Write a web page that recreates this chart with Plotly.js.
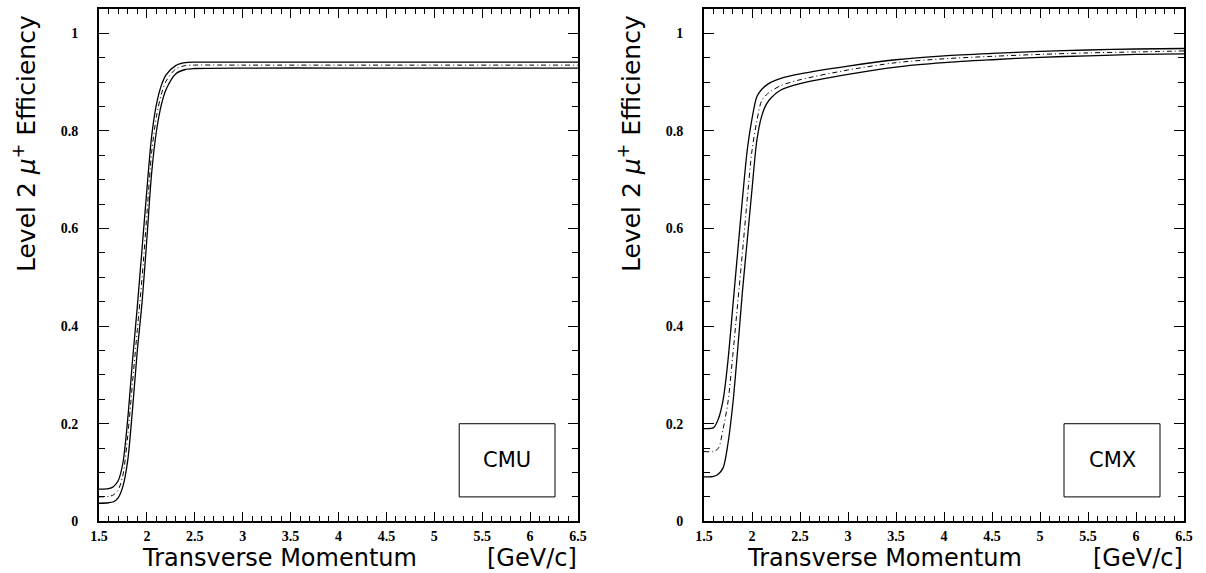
<!DOCTYPE html>
<html>
<head>
<meta charset="utf-8">
<script src="https://cdn.plot.ly/plotly-3.0.1.min.js"></script>
<style>html,body{margin:0;padding:0;background:#fff;}#chart{width:1206px;height:573px;}</style>
</head>
<body>
<div id="chart"></div>
<script>
// Transverse momentum grid (GeV/c) for CMU curves
var cmuPt = [1.5, 1.6, 1.65, 1.7, 1.75, 1.8, 1.85, 1.9, 1.95, 2.0, 2.05, 2.1, 2.15, 2.2, 2.3, 2.4, 2.5, 3.0, 4.0, 5.0, 6.0, 6.5];
var cmuCentral = [0.050, 0.051, 0.054, 0.064, 0.095, 0.175, 0.285, 0.393, 0.500, 0.630, 0.757, 0.830, 0.875, 0.902, 0.927, 0.934, 0.935, 0.935, 0.935, 0.935, 0.935, 0.935];
var cmuUpper   = [0.066, 0.067, 0.071, 0.083, 0.120, 0.210, 0.330, 0.440, 0.560, 0.680, 0.790, 0.855, 0.893, 0.915, 0.934, 0.940, 0.941, 0.941, 0.941, 0.941, 0.941, 0.941];
var cmuLower   = [0.037, 0.038, 0.040, 0.048, 0.072, 0.125, 0.230, 0.350, 0.450, 0.580, 0.715, 0.800, 0.853, 0.885, 0.917, 0.926, 0.928, 0.929, 0.929, 0.929, 0.929, 0.929];

// Transverse momentum grid (GeV/c) for CMX curves
var cmxPt = [1.5, 1.6, 1.65, 1.7, 1.75, 1.8, 1.85, 1.9, 1.95, 2.0, 2.05, 2.1, 2.15, 2.2, 2.3, 2.5, 3.0, 3.5, 4.0, 4.5, 5.0, 5.5, 6.0, 6.5];
var cmxCentral = [0.143, 0.143, 0.150, 0.190, 0.245, 0.340, 0.445, 0.550, 0.660, 0.760, 0.820, 0.862, 0.874, 0.882, 0.893, 0.905, 0.925, 0.940, 0.948, 0.953, 0.957, 0.960, 0.962, 0.964];
var cmxUpper   = [0.190, 0.192, 0.210, 0.250, 0.330, 0.440, 0.550, 0.660, 0.760, 0.825, 0.870, 0.885, 0.894, 0.900, 0.908, 0.917, 0.933, 0.946, 0.954, 0.959, 0.963, 0.966, 0.968, 0.969];
var cmxLower   = [0.091, 0.092, 0.097, 0.110, 0.160, 0.240, 0.350, 0.470, 0.575, 0.680, 0.780, 0.830, 0.855, 0.868, 0.884, 0.897, 0.916, 0.931, 0.940, 0.946, 0.951, 0.954, 0.957, 0.958];

var panelLabels = ["CMU", "CMX"];
var yTitle = "Level 2 <i>μ</i><sup>+</sup> Efficiency";
var xTitleMain = "Transverse Momentum";
var xTitleUnit = "[GeV/c]";

function solid(x, y, xa, ya) {
  return {x: x, y: y, xaxis: xa, yaxis: ya, type: 'scatter', mode: 'lines',
    line: {color: 'black', width: 1.3, shape: 'spline', smoothing: 0.8}, hoverinfo: 'skip', showlegend: false};
}
function dashdot(x, y, xa, ya) {
  return {x: x, y: y, xaxis: xa, yaxis: ya, type: 'scatter', mode: 'lines',
    line: {color: 'black', width: 1, dash: '5px,3px,1px,3px', shape: 'spline', smoothing: 0.8}, hoverinfo: 'skip', showlegend: false};
}

var data = [
  solid(cmuPt, cmuUpper, 'x', 'y'),
  dashdot(cmuPt, cmuCentral, 'x', 'y'),
  solid(cmuPt, cmuLower, 'x', 'y'),
  solid(cmxPt, cmxUpper, 'x2', 'y2'),
  dashdot(cmxPt, cmxCentral, 'x2', 'y2'),
  solid(cmxPt, cmxLower, 'x2', 'y2')
];

var tickFont = {family: 'Liberation Serif, Times New Roman, serif', size: 14, color: 'black', weight: 'bold'};
function xax(domain, anchor) {
  return {domain: domain, anchor: anchor, range: [1.5, 6.5], tick0: 1.5, dtick: 0.5,
    ticks: 'inside', ticklen: 9, tickwidth: 1, tickcolor: 'black',
    minor: {dtick: 0.1, tick0: 1.5, ticks: 'inside', ticklen: 5, tickwidth: 1, tickcolor: 'black', showgrid: false},
    showline: true, linewidth: 2, linecolor: 'black', mirror: 'allticks',
    showgrid: false, zeroline: false, tickfont: tickFont, ticklabelstandoff: 1, fixedrange: true};
}
function yax(domain, anchor) {
  return {domain: domain, anchor: anchor, range: [0, 1.05], tick0: 0, dtick: 0.2,
    ticks: 'inside', ticklen: 10, tickwidth: 1, tickcolor: 'black',
    minor: {dtick: 0.05, tick0: 0, ticks: 'inside', ticklen: 6, tickwidth: 1, tickcolor: 'black', showgrid: false},
    showline: true, linewidth: 2, linecolor: 'black', mirror: 'allticks',
    showgrid: false, zeroline: false, tickfont: tickFont, ticklabelstandoff: 16, fixedrange: true};
}

var yDom = [1 - 521.3 / 573, 1 - 9 / 573];
var titleFont = {family: 'DejaVu Sans, sans-serif', size: 25, color: 'black'};
var xTitleFont = {family: 'DejaVu Sans, sans-serif', size: 24, color: 'black'};
var layout = {
  width: 1206, height: 573,
  margin: {l: 0, r: 0, t: 0, b: 0},
  paper_bgcolor: 'white', plot_bgcolor: 'white',
  showlegend: false,
  xaxis: xax([99 / 1206, 578 / 1206], 'y'),
  yaxis: yax(yDom, 'x'),
  xaxis2: xax([704 / 1206, 1184 / 1206], 'y2'),
  yaxis2: yax(yDom, 'x2'),
  shapes: [
    {type: 'rect', xref: 'x', yref: 'y', x0: 5.26, x1: 6.26, y0: 0.05, y1: 0.2, line: {color: 'black', width: 1}},
    {type: 'rect', xref: 'x2', yref: 'y2', x0: 5.25, x1: 6.25, y0: 0.05, y1: 0.2, line: {color: 'black', width: 1}}
  ],
  annotations: [
    {xref: 'x', yref: 'y', x: 5.76, y: 0.125, text: panelLabels[0], showarrow: false, font: {family: 'DejaVu Sans, sans-serif', size: 21, color: 'black'}},
    {xref: 'x2', yref: 'y2', x: 5.75, y: 0.125, text: panelLabels[1], showarrow: false, font: {family: 'DejaVu Sans, sans-serif', size: 21, color: 'black'}},
    {xref: 'paper', yref: 'paper', x: 24 / 1206, y: 1 - 144 / 573, text: yTitle, textangle: -90, showarrow: false, xanchor: 'center', yanchor: 'middle', font: titleFont},
    {xref: 'paper', yref: 'paper', x: 629 / 1206, y: 1 - 144 / 573, text: yTitle, textangle: -90, showarrow: false, xanchor: 'center', yanchor: 'middle', font: titleFont},
    {xref: 'paper', yref: 'paper', x: 279 / 1206, y: 0, text: xTitleMain, showarrow: false, xanchor: 'center', yanchor: 'bottom', borderpad: 0, font: xTitleFont},
    {xref: 'paper', yref: 'paper', x: 578 / 1206, y: 0, text: xTitleUnit, showarrow: false, xanchor: 'right', yanchor: 'bottom', borderpad: 0, font: xTitleFont},
    {xref: 'paper', yref: 'paper', x: 884 / 1206, y: 0, text: xTitleMain, showarrow: false, xanchor: 'center', yanchor: 'bottom', borderpad: 0, font: xTitleFont},
    {xref: 'paper', yref: 'paper', x: 1184 / 1206, y: 0, text: xTitleUnit, showarrow: false, xanchor: 'right', yanchor: 'bottom', borderpad: 0, font: xTitleFont}
  ]
};

Plotly.newPlot('chart', data, layout, {staticPlot: true, displayModeBar: false});
</script>
</body>
</html>
